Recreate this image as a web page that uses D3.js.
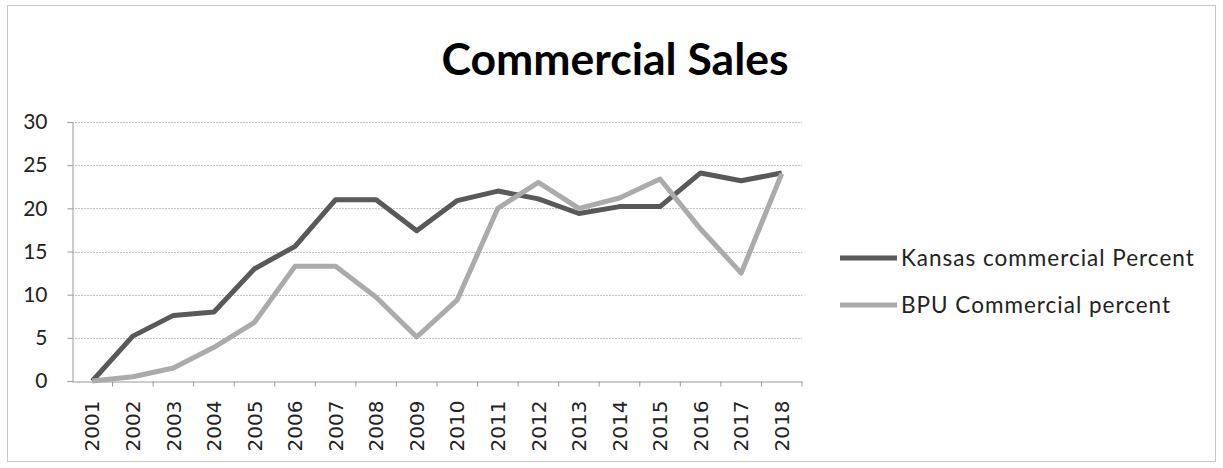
<!DOCTYPE html>
<html>
<head>
<meta charset="utf-8">
<script src="https://cdn.jsdelivr.net/npm/d3@7"></script>
<style>
  body { margin: 0; background: #fff; }
  svg { display: block; }
</style>
</head>
<body>
<div class="chart"></div>
<script>
// Data
const years = ['2001','2002','2003','2004','2005','2006','2007','2008','2009',
  '2010','2011','2012','2013','2014','2015','2016','2017','2018'];
const kansasPercent = [0, 5.2, 7.6, 8.0, 13.0, 15.6, 21.0, 21.0, 17.4,
  20.9, 22.0, 21.1, 19.4, 20.2, 20.2, 24.1, 23.2, 24.1];
const bpuPercent = [0, 0.5, 1.5, 3.9, 6.8, 13.3, 13.3, 9.7, 5.1,
  9.4, 20.0, 23.0, 20.0, 21.2, 23.4, 17.6, 12.5, 24.0];
const yTicks = [0, 5, 10, 15, 20, 25, 30];
const seriesNames = ['Kansas commercial Percent', 'BPU Commercial percent'];
const seriesColors = ['#595959', '#ababab'];

const W = 1223, H = 468;
const margin = { top: 122, right: 421, bottom: 87, left: 72 };
const width = W - margin.left - margin.right;
const height = H - margin.top - margin.bottom;

const svg = d3.select('.chart')
  .append('svg')
  .attr('width', W)
  .attr('height', H);

// outer chart frame
svg.append('rect')
  .attr('x', 7.5).attr('y', 5.5)
  .attr('width', 1208).attr('height', 456)
  .attr('fill', 'none')
  .attr('stroke', '#c8c8c8');

// title
svg.append('text')
  .attr('x', 615).attr('y', 75)
  .attr('text-anchor', 'middle')
  .style('font-family', 'Lato, Carlito, sans-serif')
  .style('font-weight', 'bold')
  .style('font-size', '44.5px')
  .text('Commercial Sales');

const g = svg.append('g')
  .attr('transform', `translate(${margin.left},${margin.top})`);

// Scales
const x = d3.scaleBand().domain(years).range([0, width]);
const y = d3.scaleLinear().domain([0, 30]).range([height, 0]);

// Gridlines
g.append('g')
  .selectAll('line')
  .data(yTicks.filter(d => d > 0))
  .enter().append('line')
  .attr('x1', 0).attr('x2', width)
  .attr('y1', d => Math.round(y(d)) + 0.5)
  .attr('y2', d => Math.round(y(d)) + 0.5)
  .attr('stroke', '#c4c4c4')
  .attr('stroke-dasharray', '2,1');

// Y Axis
const yAxis = g.append('g')
  .attr('transform', 'translate(0.5,0)')
  .call(d3.axisLeft(y).tickValues(yTicks).tickSize(5).tickPadding(20));
yAxis.select('.domain').attr('stroke', '#9a9a9a');
yAxis.selectAll('.tick line').attr('stroke', '#9a9a9a');
yAxis.selectAll('text')
  .style('font-family', 'Lato, Carlito, sans-serif')
  .style('font-size', '21px')
  .attr('fill', '#222');

// X Axis
const xAxis = g.append('g')
  .attr('transform', `translate(0,${height + 0.5})`)
  .call(d3.axisBottom(x).tickSize(5).tickSizeOuter(0));
xAxis.select('.domain').attr('stroke', '#9a9a9a');
xAxis.selectAll('.tick line')
  .attr('transform', `translate(${x.bandwidth() / 2},0)`)
  .attr('stroke', '#9a9a9a');
xAxis.selectAll('text')
  .attr('transform', 'rotate(-90)')
  .attr('x', -19)
  .attr('y', 0)
  .attr('dy', '0.36em')
  .style('text-anchor', 'end')
  .style('font-family', '"DejaVu Sans", sans-serif')
  .style('font-size', '20px')
  .attr('fill', '#222');

// Lines
const line = d3.line()
  .x((d, i) => x(years[i]) + x.bandwidth() / 2)
  .y(d => y(d));

[kansasPercent, bpuPercent].forEach((vals, i) => {
  g.append('path')
    .datum(vals)
    .attr('fill', 'none')
    .attr('stroke', seriesColors[i])
    .attr('stroke-width', 5)
    .attr('stroke-linejoin', 'round')
    .attr('d', line);
});

// Legend
const legend = svg.append('g')
  .attr('transform', 'translate(840,258)');
seriesNames.forEach((name, i) => {
  const row = legend.append('g').attr('transform', `translate(0,${i * 47})`);
  row.append('line')
    .attr('x1', 0).attr('x2', 57)
    .attr('stroke', seriesColors[i])
    .attr('stroke-width', 5);
  row.append('text')
    .attr('x', 61)
    .attr('dy', '0.36em')
    .style('font-family', 'Lato, Carlito, sans-serif')
    .style('font-size', '22.5px')
    .style('letter-spacing', '1px')
    .attr('fill', '#222')
    .text(name);
});
</script>
</body>
</html>
